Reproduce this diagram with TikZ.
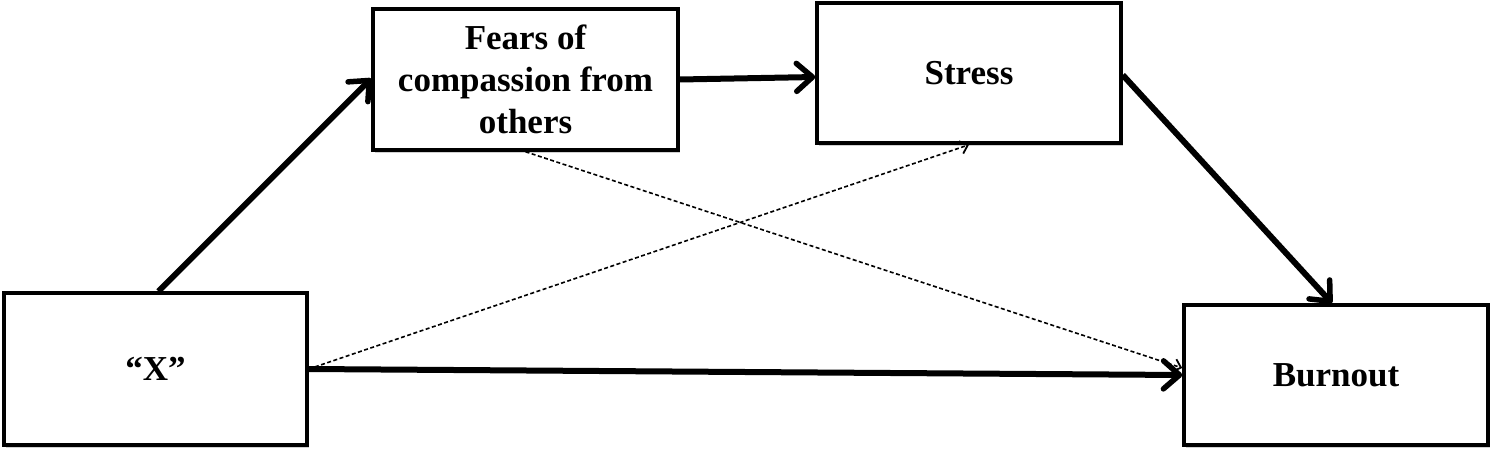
\documentclass[tikz,border=0pt]{standalone}
\usepackage{fontspec}
\setmainfont{Liberation Serif}
\usetikzlibrary{arrows.meta,shadows}
\begin{document}
\begin{tikzpicture}[x=1pt,y=-1pt,
  box/.style={draw=black,line width=3.5pt,fill=white,inner sep=0pt,align=center,
    font=\fontsize{35}{42}\selectfont\bfseries,
    drop shadow={shadow xshift=2pt,shadow yshift=-3pt,opacity=0.3,fill=black!60}},
  solidarrow/.style={line width=6pt,-{Straight Barb[length=16pt,width=28pt,line width=5.5pt,round]}},
  dasharrow/.style={line width=1.6pt,dash pattern=on 4pt off 2.5pt,-{Straight Barb[length=7pt,width=13pt,line width=1.8pt]}}
]
\useasboundingbox (0,0) rectangle (1500,458);
\node[box,minimum width=303pt,minimum height=152pt] (x) at (155.5,369) {“X”};
\node[box,minimum width=305pt,minimum height=141pt] (f) at (525.5,79.5) {Fears of\\compassion from\\others};
\node[box,minimum width=304pt,minimum height=140pt] (s) at (969,73) {Stress};
\node[box,minimum width=304pt,minimum height=140pt] (b) at (1336,375) {Burnout};
\draw[dasharrow] (x.east) -- (s.south);
\draw[dasharrow] (f.south) -- ([yshift=7pt]b.west);
\draw[solidarrow] ([xshift=3pt]x.north) -- ([yshift=1pt]f.west);
\draw[solidarrow] (f.east) -- ([yshift=-4pt]s.west);
\draw[solidarrow] ([yshift=-2pt]s.east) -- ([xshift=-4pt]b.north);
\draw[solidarrow] (x.east) -- (b.west);
\end{tikzpicture}
\end{document}
